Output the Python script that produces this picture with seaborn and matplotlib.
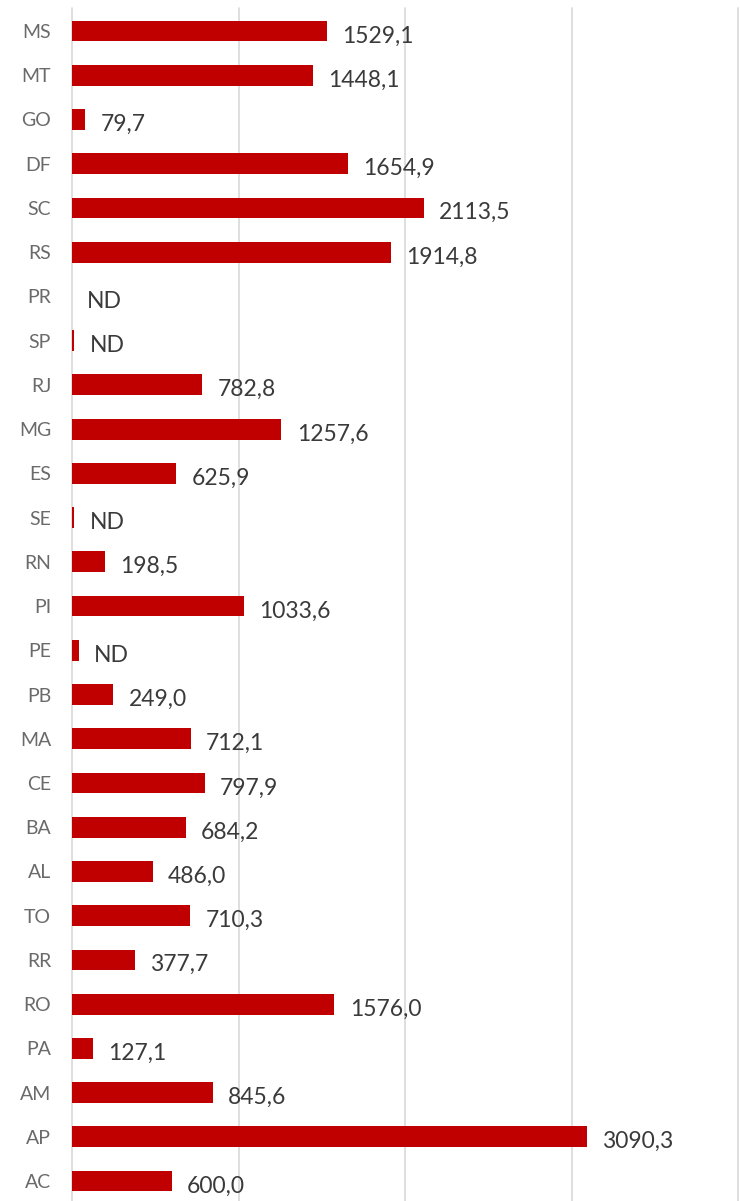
import matplotlib
matplotlib.use("Agg")
import matplotlib.pyplot as plt
import seaborn as sns
import pandas as pd

states = ["MS", "MT", "GO", "DF", "SC", "RS", "PR", "SP", "RJ", "MG", "ES", "SE", "RN",
          "PI", "PE", "PB", "MA", "CE", "BA", "AL", "TO", "RR", "RO", "PA", "AM", "AP", "AC"]
values = [1529.1, 1448.1, 79.7, 1654.9, 2113.5, 1914.8, 0.0, 14.0, 782.8, 1257.6, 625.9, 14.0, 198.5,
          1033.6, 40.0, 249.0, 712.1, 797.9, 684.2, 486.0, 710.3, 377.7, 1576.0, 127.1, 845.6, 3090.3, 600.0]
labels = ["1529,1", "1448,1", "79,7", "1654,9", "2113,5", "1914,8", "ND", "ND", "782,8", "1257,6",
          "625,9", "ND", "198,5", "1033,6", "ND", "249,0", "712,1", "797,9", "684,2", "486,0",
          "710,3", "377,7", "1576,0", "127,1", "845,6", "3090,3", "600,0"]
x_ticks = [0, 1000, 2000, 3000, 4000]

df = pd.DataFrame({"state": states, "value": values})

sns.set_theme(style="white")
plt.rcParams["font.family"] = ["Lato", "DejaVu Sans"]

fig = plt.figure(figsize=(7.40, 12.01), dpi=100)
ax = fig.add_axes([72 / 740, 0.0, 666 / 740, 1193 / 1201])

sns.barplot(data=df, x="value", y="state", orient="h", color="#C00000",
            saturation=1, width=0.47, linewidth=0, ax=ax)

ax.set_xlim(0, 4000)
ax.set_ylim(26.45, -0.52)
ax.set_xticks(x_ticks)
ax.set_xticklabels([])
ax.tick_params(axis="both", length=0)
ax.grid(axis="x", color="#d9d9d9", linewidth=1.2)
for gl in ax.get_xgridlines():
    gl.set_clip_on(False)
ax.set_axisbelow(True)
for s in ax.spines.values():
    s.set_visible(False)
ax.set_xlabel("")
ax.set_ylabel("")
ax.tick_params(axis="y", pad=15, labelsize=14, labelcolor="#6a6a6a")

for i, (v, lab) in enumerate(zip(values, labels)):
    ax.annotate(lab, xy=(v, i), xytext=(11, -3.5), textcoords="offset points",
                va="center", ha="left", fontsize=16.5, color="#3a3a3a")

fig.savefig("out.png", dpi=100)
